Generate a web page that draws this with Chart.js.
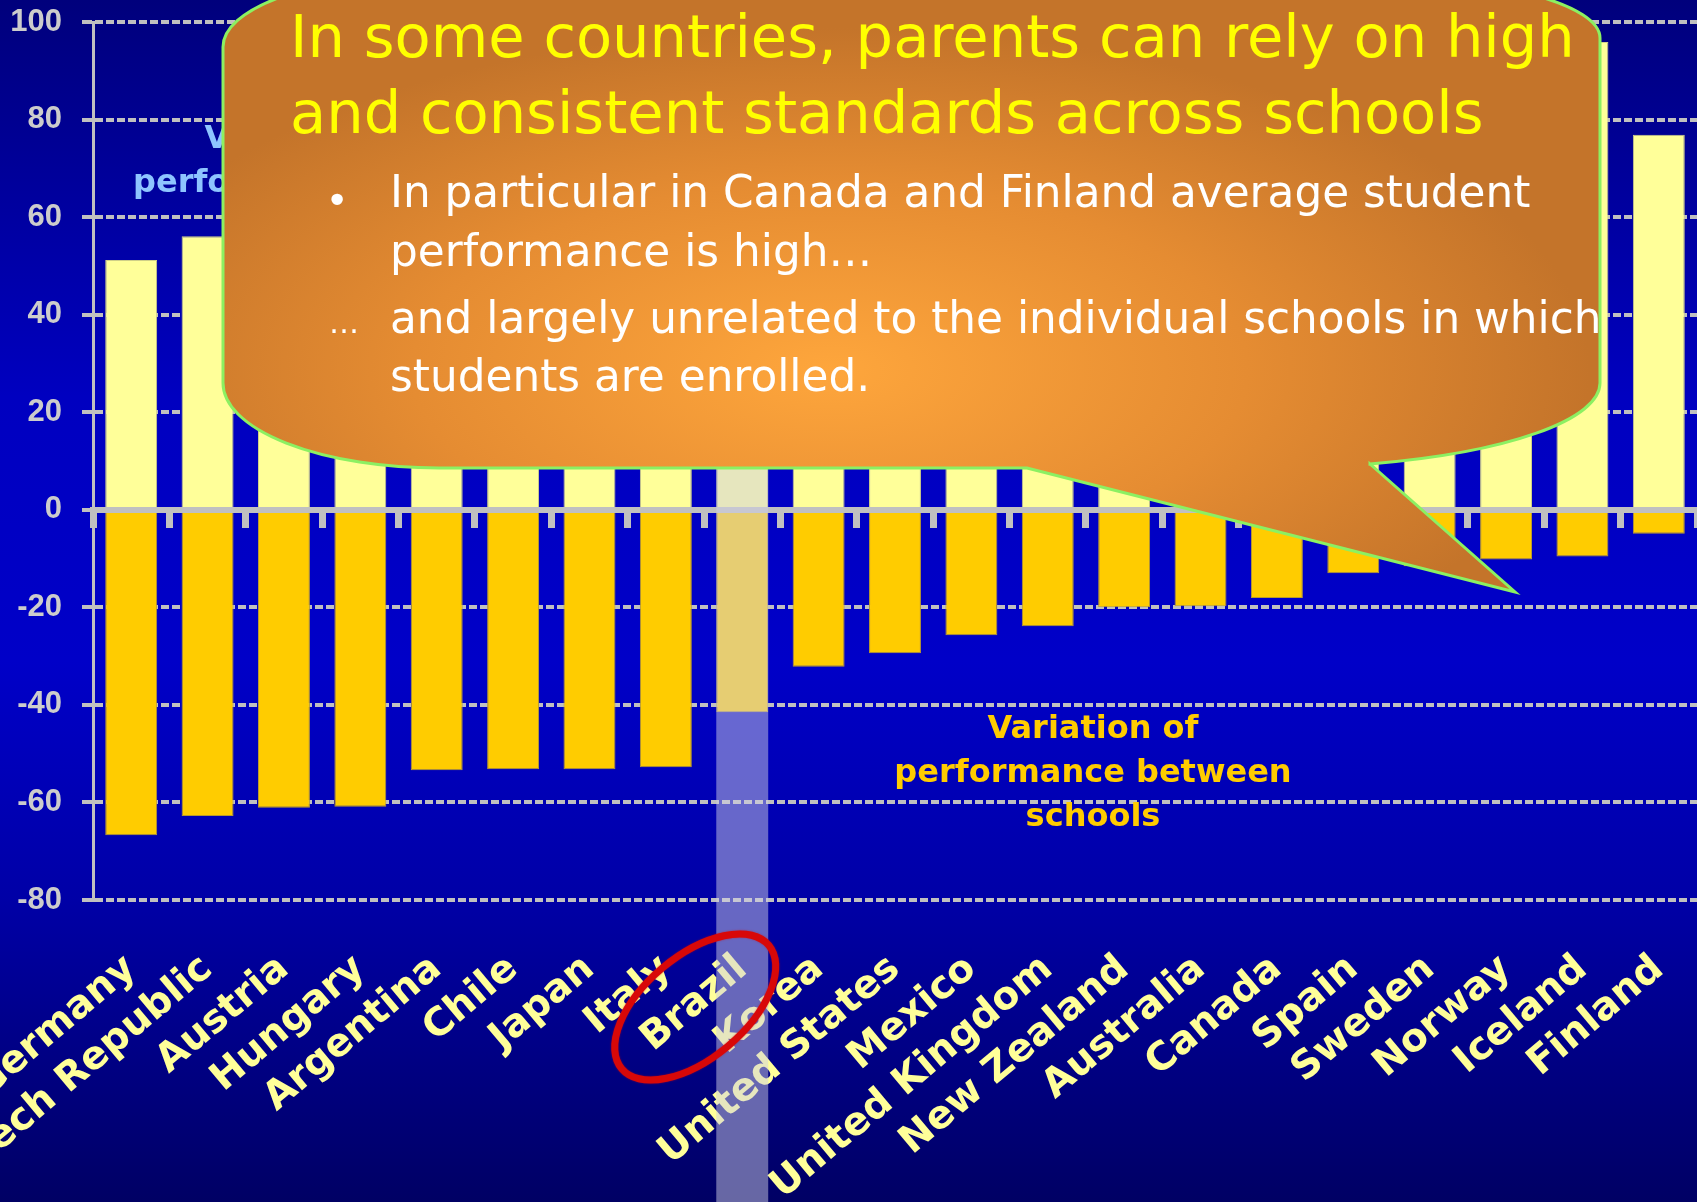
<!DOCTYPE html>
<html>
<head>
<meta charset="utf-8">
<script src="https://cdn.jsdelivr.net/npm/chart.js@4/dist/chart.umd.min.js"></script>
<style>
html,body{margin:0;padding:0;background:#000070;}
#wrap{width:1697px;height:1202px;background:linear-gradient(to bottom,#00007c 0%,#0000c0 33%,#0000c8 55%,#0000a6 75%,#000064 100%);}
canvas{display:block;}
</style>
</head>
<body>
<div id="wrap"><canvas id="c" width="1697" height="1202"></canvas></div>
<script>
// ---------- data ----------
const categories = ['Germany','Czech Republic','Austria','Hungary','Argentina','Chile','Japan','Italy','Brazil','Korea','United States','Mexico','United Kingdom','New Zealand','Australia','Canada','Spain','Sweden','Norway','Iceland','Finland'];
// variation of performance within schools (positive part)
const withinSchools = [51.2, 56.1, 45, 37, 60, 52, 37, 43, 55, 36, 84, 43, 90, 97, 80, 80, 61, 83, 96, 95.9, 76.9];
// variation of performance between schools (negative part)
const betweenSchools = [-66.7, -62.8, -61.1, -60.9, -53.4, -53.2, -53.2, -52.8, -41.5, -32.2, -29.4, -25.7, -23.9, -20.0, -19.8, -18.1, -13.0, -11.6, -10.2, -9.6, -4.9];
const yTicks = [-80, -60, -40, -20, 0, 20, 40, 60, 80, 100];
const highlightCategory = 'Brazil';
const withinLabel = ['Variation of', 'performance within', 'schools'];
const betweenLabel = ['Variation of', 'performance between', 'schools'];
const titleLines = ['In some countries, parents can rely on high', 'and consistent standards across schools'];
const bulletLines = ['In particular in Canada and Finland average student', 'performance is high\u2026', 'and largely unrelated to the individual schools in which', 'students are enrolled.'];
const bulletMarks = ['\u2022', '', '\u2026', ''];

const FAM = '"Comic Sans MS", "DejaVu Sans", sans-serif';
const GREY = '#c0c0c0';

function fitSize(ctx, text, weight, target, maxSize) {
  ctx.font = weight + ' 100px ' + FAM;
  const w = ctx.measureText(text).width;
  return Math.min(maxSize, 100 * target / w);
}

function drawCentered(ctx, lines, cx, y0, step, color, size) {
  ctx.save();
  ctx.font = 'bold ' + size + 'px ' + FAM;
  ctx.fillStyle = color;
  ctx.textAlign = 'center';
  ctx.textBaseline = 'alphabetic';
  lines.forEach((t, i) => ctx.fillText(t, cx, y0 + i * step));
  ctx.restore();
}

const overlay = {
  id: 'overlay',
  afterDraw(chart) {
    const ctx = chart.ctx;
    const area = chart.chartArea;
    const idx = categories.indexOf(highlightCategory);
    const bar = chart.getDatasetMeta(1).data[idx];

    // annotation labels
    drawCentered(ctx, withinLabel, 310, 148, 44, '#8ec4ff', 32);
    drawCentered(ctx, betweenLabel, 1093, 738, 44, '#ffcc00', 32);

    // highlight column over Brazil
    ctx.save();
    ctx.fillStyle = 'rgba(205,205,228,0.5)';
    ctx.fillRect(bar.x - bar.width / 2, 0, bar.width, chart.height);
    ctx.restore();

    // red ellipse around label
    ctx.save();
    ctx.beginPath();
    ctx.ellipse(bar.x - 47, area.bottom + 107, 96, 51, -40 * Math.PI / 180, 0, Math.PI * 2);
    ctx.lineWidth = 7;
    ctx.strokeStyle = '#d80808';
    ctx.shadowColor = 'rgba(220,0,0,0.6)';
    ctx.shadowBlur = 2;
    ctx.stroke();
    ctx.restore();

    // speech bubble
    const L = 223, R = 1600, T = -25, B = 468;
    ctx.save();
    ctx.beginPath();
    ctx.moveTo(L, T + 72);
    ctx.lineTo(L, B - 85);
    ctx.ellipse(L + 216, B - 85, 216, 85, 0, Math.PI, Math.PI / 2, true);
    ctx.lineTo(1027, B);
    ctx.lineTo(1515, 592);
    ctx.lineTo(1370, 464);
    ctx.ellipse(1270, 383, 330, 85, 0, Math.acos(100 / 330), 0, true);
    ctx.lineTo(R, T + 63);
    ctx.ellipse(R - 246, T + 63, 246, 63, 0, 0, -Math.PI / 2, true);
    ctx.lineTo(L + 206, T);
    ctx.ellipse(L + 206, T + 72, 206, 72, 0, -Math.PI / 2, -Math.PI, true);
    ctx.closePath();
    ctx.save();
    ctx.translate(830, 370);
    ctx.scale(1, 0.45);
    const g = ctx.createRadialGradient(0, 0, 0, 0, 0, 760);
    g.addColorStop(0, '#fea63c');
    g.addColorStop(0.55, '#e58c32');
    g.addColorStop(1, '#c4742a');
    ctx.fillStyle = g;
    ctx.fill();
    ctx.restore();
    ctx.lineWidth = 3;
    ctx.strokeStyle = '#8cf062';
    ctx.stroke();
    ctx.restore();

    // bubble text
    ctx.save();
    ctx.textAlign = 'left';
    ctx.textBaseline = 'alphabetic';
    const ts = fitSize(ctx, titleLines[0], 'normal', 1285, 62);
    ctx.font = 'normal ' + ts + 'px ' + FAM;
    ctx.fillStyle = '#ffff00';
    ctx.fillText(titleLines[0], 290, 57);
    ctx.fillText(titleLines[1], 290, 133);
    const bs = fitSize(ctx, bulletLines[2], 'normal', 1212, 50);
    ctx.font = 'normal ' + bs + 'px ' + FAM;
    ctx.fillStyle = '#ffffff';
    const bl = [207, 266, 333, 391];
    bulletLines.forEach((t, i) => ctx.fillText(t, 390, bl[i]));
    ctx.font = 'normal ' + (bs * 0.9) + 'px ' + FAM;
    ctx.textAlign = 'center';
    if (bulletMarks[0]) ctx.fillText(bulletMarks[0], 337, 214);
    ctx.font = 'normal 30px ' + FAM;
    if (bulletMarks[2]) ctx.fillText(bulletMarks[2], 344, 333);
    ctx.restore();
  }
};

new Chart(document.getElementById('c'), {
  type: 'bar',
  data: {
    labels: categories,
    datasets: [
      { label: 'Within schools', data: withinSchools, backgroundColor: '#ffff99', borderColor: '#cfcf88', borderWidth: 1, barPercentage: 0.68, categoryPercentage: 1 },
      { label: 'Between schools', data: betweenSchools, backgroundColor: '#ffcc00', borderColor: '#b89a30', borderWidth: 1, barPercentage: 0.68, categoryPercentage: 1 }
    ]
  },
  options: {
    responsive: false,
    animation: false,
    devicePixelRatio: 1,
    layout: { padding: { top: 22, left: 0, right: 0, bottom: 0 } },
    plugins: { legend: { display: false }, tooltip: { enabled: false } },
    scales: {
      x: {
        type: 'category',
        stacked: true,
        offset: true,
        position: { y: 0 },
        ticks: { display: false },
        grid: { offset: true, drawOnChartArea: false, drawTicks: true, tickLength: 15, tickWidth: 7, tickColor: GREY, color: GREY, z: 1 },
        border: { display: true, color: GREY, width: 6, z: 1 }
      },
      xl: {
        type: 'category',
        position: 'bottom',
        offset: true,
        grid: { display: false, drawTicks: false },
        border: { display: false },
        ticks: {
          autoSkip: false, minRotation: 40, maxRotation: 40, padding: 46,
          color: '#ffff99',
          font: { family: FAM, weight: 'bold', size: 39 }
        },
        afterFit: s => { s.height = 302; s.paddingLeft = 0; s.paddingRight = 0; }
      },
      y: {
        stacked: true,
        min: -80, max: 100,
        position: 'left',
        afterBuildTicks: s => { s.ticks = yTicks.map(v => ({ value: v })); },
        ticks: { color: '#cccccc', padding: 20, font: { family: '"Liberation Sans", Arial, sans-serif', weight: 'bold', size: 31 } },
        grid: { color: GREY, lineWidth: 4, drawTicks: true, tickLength: 11, tickWidth: 4, tickColor: GREY },
        border: { display: true, color: GREY, width: 3, dash: [8, 3] },
        afterFit: s => { s.width = 93; s.paddingTop = 0; s.paddingBottom = 0; }
      }
    }
  },
  plugins: [overlay]
});
</script>
</body>
</html>
